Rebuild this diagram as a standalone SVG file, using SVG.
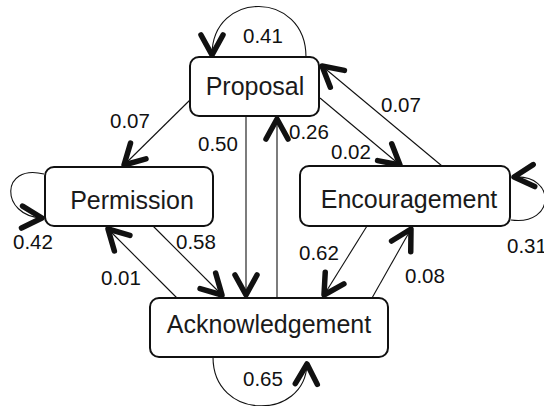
<svg xmlns="http://www.w3.org/2000/svg" width="544" height="406" viewBox="0 0 544 406">
<defs>
<style>
.box{fill:#fff;stroke:#111;stroke-width:2}
.nt{font-family:"Liberation Sans",Arial,sans-serif;font-size:25px;fill:#1a1a1a;text-anchor:middle}
.lb{font-family:"Liberation Sans",Arial,sans-serif;font-size:20.5px;fill:#111}
.e{fill:none;stroke:#111;stroke-width:1.1;marker-end:url(#ah)}
</style>
<marker id="ah" markerUnits="userSpaceOnUse" markerWidth="40" markerHeight="40" viewBox="-30 -20 40 40" refX="0" refY="0" orient="auto">
<path d="M-20,-11 L0,0 L-20,11" fill="none" stroke="#111" stroke-width="5.5" stroke-linecap="round" stroke-linejoin="round"/>
</marker>
</defs>
<rect width="544" height="406" fill="#fff"/>
<g id="connectors">
<path class="e" d="M306,57 C306,-10 212,-10 212,55"/>
<path class="e" d="M44,174 C0,163 0,216 42,218"/>
<path class="e" d="M511,220 C556,226 556,174 514,177"/>
<path class="e" d="M213,357 C213,421 305,421 307,364"/>
<path class="e" d="M192,98 L124,165"/>
<path class="e" d="M246,116 L246,295"/>
<path class="e" d="M277,298 L277,119"/>
<path class="e" d="M320,98 L400,165"/>
<path class="e" d="M442,166 L322,66"/>
<path class="e" d="M153,226 L222,295"/>
<path class="e" d="M177,298 L108,229"/>
<path class="e" d="M367,226 L324,295"/>
<path class="e" d="M372,298 L411,229"/>
</g>
<g id="labels">
<text class="lb" x="243" y="43">0.41</text>
<text class="lb" x="110" y="128">0.07</text>
<text class="lb" x="198" y="151">0.50</text>
<text class="lb" x="289" y="139">0.26</text>
<text class="lb" x="381" y="112">0.07</text>
<text class="lb" x="331" y="159">0.02</text>
<text class="lb" x="13" y="249">0.42</text>
<text class="lb" x="176" y="249">0.58</text>
<text class="lb" x="101" y="285">0.01</text>
<text class="lb" x="299" y="260">0.62</text>
<text class="lb" x="405" y="283">0.08</text>
<text class="lb" x="507" y="253">0.31</text>
<text class="lb" x="243" y="386">0.65</text>
</g>
<g id="proposal"><rect class="box" x="190" y="57" width="129" height="59" rx="9"/><text class="nt" x="255" y="95">Proposal</text></g>
<g id="permission"><rect class="box" x="45" y="167" width="168" height="59" rx="9"/><text class="nt" x="132" y="209">Permission</text></g>
<g id="encouragement"><rect class="box" x="300" y="166" width="210" height="60" rx="9"/><text class="nt" x="409" y="208">Encouragement</text></g>
<g id="acknowledgement"><rect class="box" x="150" y="298" width="238" height="59" rx="9"/><text class="nt" x="269" y="333">Acknowledgement</text></g>
</svg>
